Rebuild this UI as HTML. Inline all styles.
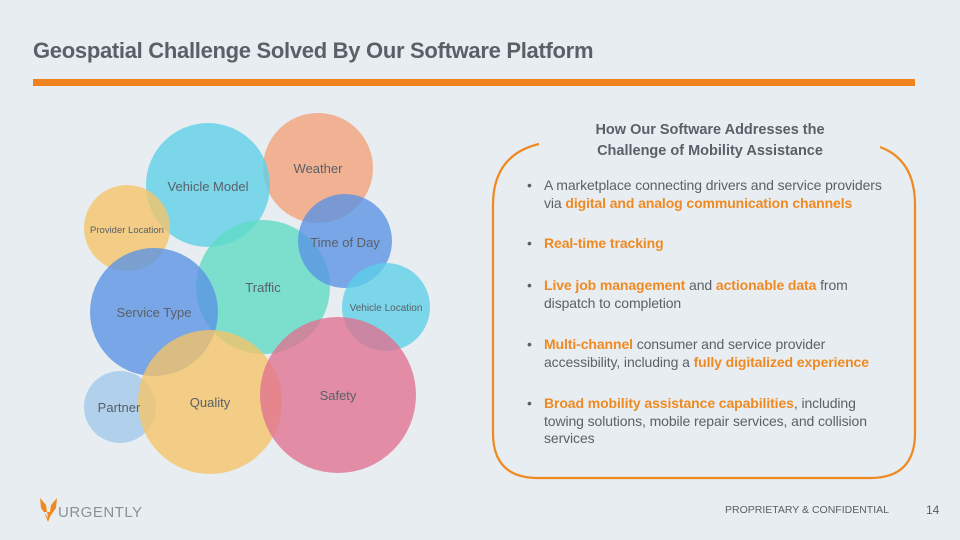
<!DOCTYPE html>
<html><head><meta charset="utf-8"><style>
html,body{margin:0;padding:0}
body{width:960px;height:540px;background:#e8edf1;position:relative;overflow:hidden;font-family:"Liberation Sans",sans-serif;color:#5b6168}
.t{position:absolute;left:33px;top:38px;font-size:22px;font-weight:bold;color:#5a6068;letter-spacing:-0.3px}
.bar{position:absolute;left:33px;top:79px;width:882px;height:7px;background:#f0831e}
.h{position:absolute;left:520px;width:380px;top:120px;text-align:center;font-weight:bold;font-size:14.5px;line-height:21px;color:#5a6068}
.b{position:absolute;left:528px;width:380px;font-size:14px;line-height:17.5px;letter-spacing:-0.1px;white-space:nowrap}
.b:before{content:"•";position:absolute;left:-1px}
.b span.tx{display:block;margin-left:16px}
.o{color:#ef8a22;font-weight:bold}
.f{position:absolute;font-size:11px;color:#5a6068}
circle{fill-opacity:0.78}
</style></head><body>
<div class="t">Geospatial Challenge Solved By Our Software Platform</div>
<div class="bar"></div>
<svg width="960" height="540" style="position:absolute;left:0;top:0">
<circle cx="318" cy="168" r="55" fill="#f4a078"/>
<circle cx="208" cy="185" r="62" fill="#5ccfe8"/>
<circle cx="127" cy="228" r="43" fill="#f6c466"/>
<circle cx="263" cy="287" r="67" fill="#5edbc3"/>
<circle cx="345" cy="241" r="47" fill="#5892e4"/>
<circle cx="386" cy="307" r="44" fill="#5ccfe8"/>
<circle cx="154" cy="312" r="64" fill="#5892e4"/>
<circle cx="120" cy="407" r="36" fill="#a2c8eb"/>
<circle cx="210" cy="402" r="72" fill="#f6c466"/>
<circle cx="338" cy="395" r="78" fill="#e0718f"/>
<g font-family="Liberation Sans,sans-serif" fill="#5a6068" text-anchor="middle">
<text x="318" y="173" font-size="13">Weather</text>
<text x="208" y="191" font-size="13">Vehicle Model</text>
<text x="127" y="233" font-size="9.5">Provider Location</text>
<text x="345" y="247" font-size="13">Time of Day</text>
<text x="263" y="292" font-size="13">Traffic</text>
<text x="386" y="311" font-size="10">Vehicle Location</text>
<text x="154" y="317" font-size="13">Service Type</text>
<text x="119" y="412" font-size="13">Partner</text>
<text x="210" y="407" font-size="13">Quality</text>
<text x="338" y="400" font-size="13">Safety</text>
</g>
<path d="M539 144 Q493 155 493 205 L493 433 Q493 478 538 478 L870 478 Q915 478 915 433 L915 205 Q915 160 880 147" fill="none" stroke="#ef8a22" stroke-width="2.2"/>
<path d="M40 498 L46 505 L48 518 L41 508 Z M57 498 L51 505 L49 518 L56 508 Z M44 512 L48 522 L52 512 Z" fill="#ef8a22"/>
</svg>
<div class="h">How Our Software Addresses the<br>Challenge of Mobility Assistance</div>
<div class="b" style="top:177px"><span class="tx">A marketplace connecting drivers and service providers<br>via <span class="o">digital and analog communication channels</span></span></div>
<div class="b" style="top:235px"><span class="tx"><span class="o">Real-time tracking</span></span></div>
<div class="b" style="top:277px"><span class="tx"><span class="o">Live job management</span> and <span class="o">actionable data</span> from<br>dispatch to completion</span></div>
<div class="b" style="top:336px"><span class="tx"><span class="o">Multi-channel</span> consumer and service provider<br>accessibility, including a <span class="o">fully digitalized experience</span></span></div>
<div class="b" style="top:395px"><span class="tx"><span class="o">Broad mobility assistance capabilities</span>, including<br>towing solutions, mobile repair services, and collision<br>services</span></div>
<div class="f" style="left:58px;top:504px;font-size:15px;color:#8a9096;letter-spacing:0.5px">URGENTLY</div>
<div class="f" style="left:725px;top:504px;font-size:10.5px">PROPRIETARY &amp; CONFIDENTIAL</div>
<div class="f" style="left:926px;top:503px;font-size:12px">14</div>
</body></html>
